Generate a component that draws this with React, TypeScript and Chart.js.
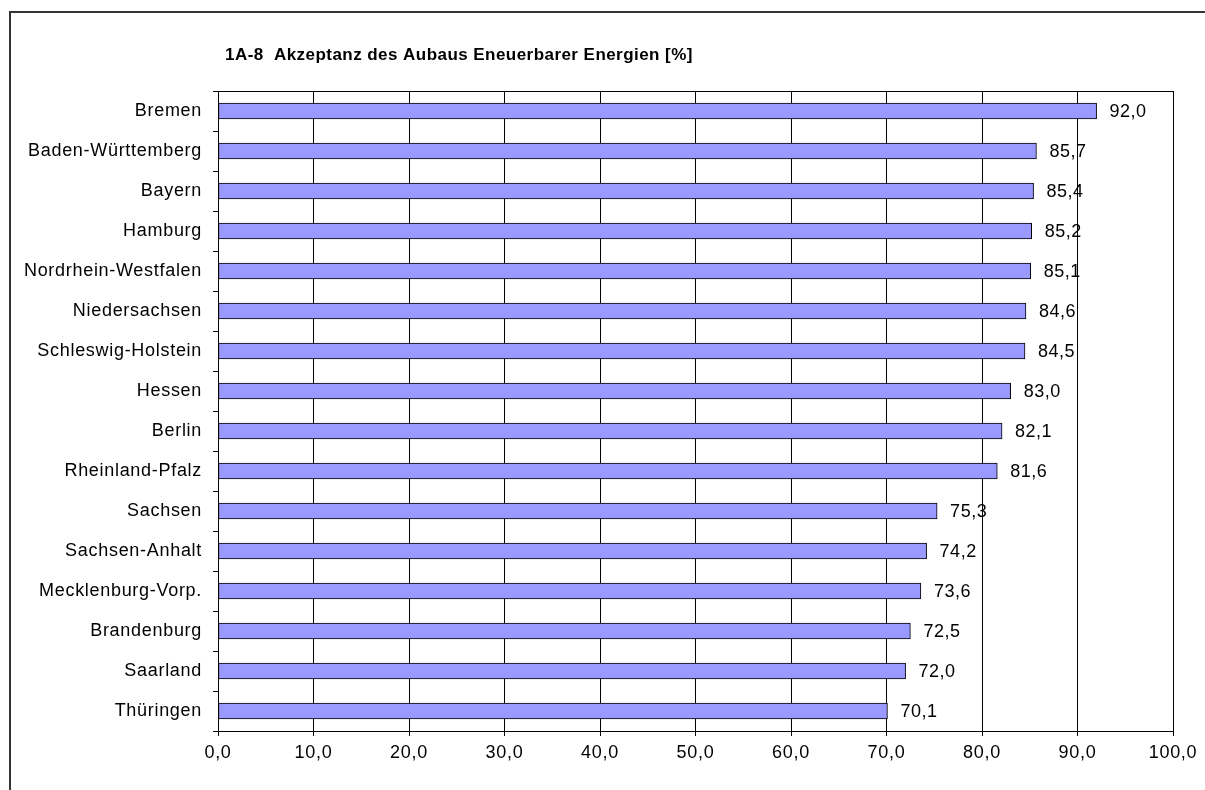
import React, { useEffect, useRef } from "react";
import { Chart, registerables } from "chart.js";

Chart.register(...registerables);

const categories = [
  "Bremen",
  "Baden-Württemberg",
  "Bayern",
  "Hamburg",
  "Nordrhein-Westfalen",
  "Niedersachsen",
  "Schleswig-Holstein",
  "Hessen",
  "Berlin",
  "Rheinland-Pfalz",
  "Sachsen",
  "Sachsen-Anhalt",
  "Mecklenburg-Vorp.",
  "Brandenburg",
  "Saarland",
  "Thüringen",
];

const values = [92.0, 85.7, 85.4, 85.2, 85.1, 84.6, 84.5, 83.0, 82.1, 81.6, 75.3, 74.2, 73.6, 72.5, 72.0, 70.1];

const titleText = "1A-8  Akzeptanz des Aubaus Eneuerbarer Energien [%]";
const FONT = "'Liberation Sans', Arial, sans-serif";

const fmt = (v: number) => v.toFixed(1).replace(".", ",");

const decorPlugin = {
  id: "decor",
  beforeDraw(chart: any) {
    const { ctx } = chart;
    ctx.save();
    ctx.fillStyle = "#ffffff";
    ctx.fillRect(0, 0, chart.width, chart.height);
    // outer frame
    ctx.strokeStyle = "#333333";
    ctx.lineWidth = 2;
    ctx.beginPath();
    ctx.moveTo(10, chart.height + 5);
    ctx.lineTo(10, 12);
    ctx.lineTo(chart.width + 5, 12);
    ctx.stroke();
    // title
    ctx.fillStyle = "#000000";
    ctx.font = `bold 17px ${FONT}`;
    (ctx as any).letterSpacing = "0.45px";
    ctx.textAlign = "left";
    ctx.textBaseline = "alphabetic";
    ctx.fillText(titleText, 225, 60);
    ctx.restore();
    (ctx as any).letterSpacing = "0.7px";
  },
  afterDatasetsDraw(chart: any) {
    const { ctx, chartArea } = chart;
    ctx.save();
    ctx.strokeStyle = "#000000";
    ctx.lineWidth = 1;
    ctx.strokeRect(
      Math.round(chartArea.left) + 0.5,
      Math.round(chartArea.top) + 0.5,
      Math.round(chartArea.right - chartArea.left),
      Math.round(chartArea.bottom - chartArea.top)
    );
    const meta = chart.getDatasetMeta(0);
    ctx.fillStyle = "#000000";
    ctx.font = `18px ${FONT}`;
    (ctx as any).letterSpacing = "0.5px";
    ctx.textAlign = "left";
    ctx.textBaseline = "middle";
    meta.data.forEach((bar: any, i: number) => {
      ctx.fillText(fmt(values[i]), bar.x + 13, bar.y + 1);
    });
    ctx.restore();
  },
};

export default function App() {
  const ref = useRef<HTMLCanvasElement | null>(null);

  useEffect(() => {
    if (!ref.current) return;
    const chart = new Chart(ref.current, {
      type: "bar",
      data: {
        labels: categories,
        datasets: [
          {
            data: values,
            backgroundColor: "#9999FF",
            borderColor: "#000000",
            borderWidth: 1,
            borderSkipped: false,
            barThickness: 16,
          },
        ],
      },
      options: {
        indexAxis: "y",
        animation: false,
        responsive: false,
        maintainAspectRatio: false,
        layout: { padding: { top: 91, right: 32, left: 0, bottom: 0 } },
        plugins: {
          legend: { display: false },
          title: { display: false },
          tooltip: { enabled: false },
        },
        scales: {
          x: {
            min: 0,
            max: 100,
            afterFit(scale: any) {
              scale.height = 59;
            },
            ticks: {
              stepSize: 10,
              color: "#000000",
              font: { family: FONT, size: 18 },
              padding: 6,
              callback: (v: any) => fmt(Number(v)),
              maxRotation: 0,
            },
            grid: {
              color: "#000000",
              lineWidth: 1,
              drawOnChartArea: true,
              drawTicks: true,
              tickLength: 5,
              tickColor: "#000000",
            },
            border: { color: "#000000", width: 1 },
          },
          y: {
            afterFit(scale: any) {
              scale.width = 218;
            },
            ticks: {
              color: "#000000",
              font: { family: FONT, size: 18 },
              padding: 11,
              autoSkip: false,
            },
            grid: {
              offset: true,
              drawOnChartArea: false,
              drawTicks: true,
              tickLength: 5,
              tickColor: "#000000",
              color: "#000000",
            },
            border: { color: "#000000", width: 1 },
          },
        },
      },
      plugins: [decorPlugin],
    });
    return () => chart.destroy();
  }, []);

  return (
    <div style={{ position: "fixed", left: 0, top: 0, width: 1205, height: 790, background: "#fff" }}>
      <canvas ref={ref} width={1205} height={790} style={{ width: 1205, height: 790, display: "block" }} />
    </div>
  );
}
